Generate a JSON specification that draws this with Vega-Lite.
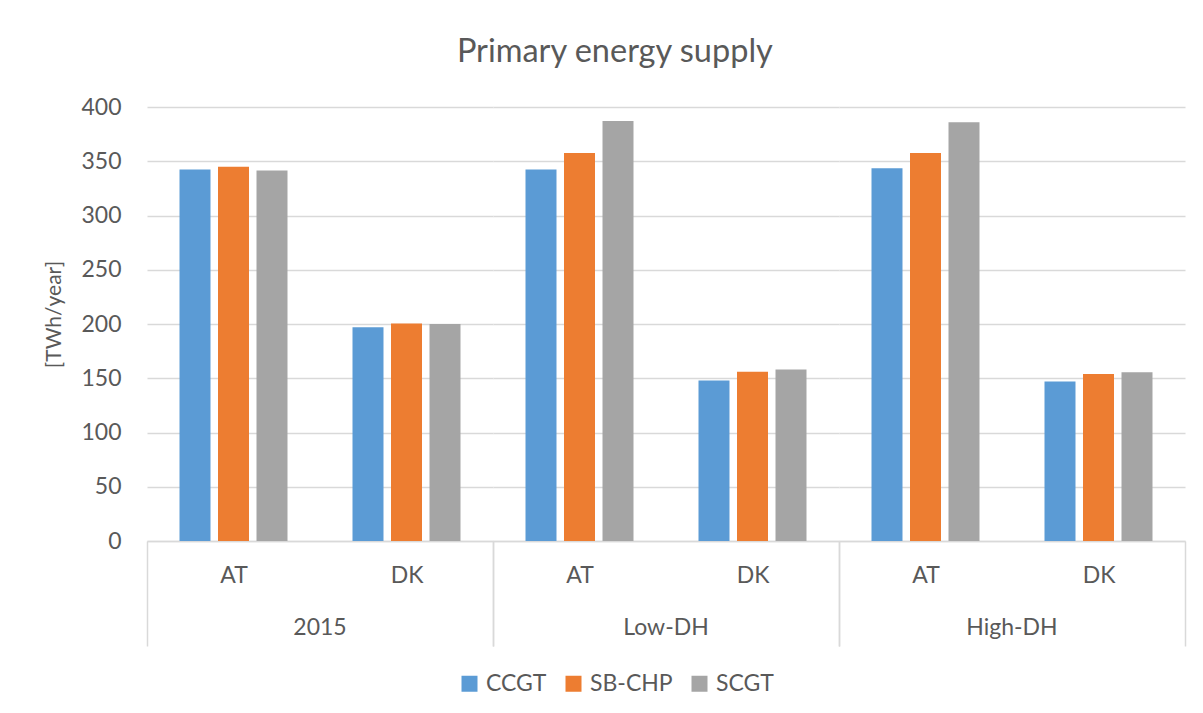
{
  "$schema": "https://vega.github.io/schema/vega-lite/v6.json",
  "background": "white",
  "padding": {"left": 43, "top": 35, "right": 10, "bottom": 5},
  "title": {"text": "Primary energy supply", "font": "Lato", "fontSize": 32.5, "fontWeight": "normal", "color": "#595959", "anchor": "middle", "frame": "bounds", "offset": 28},
  "data": {"values": [
    {"scenario": "2015", "country": "AT", "tech": "CCGT", "value": 342.5},
    {"scenario": "2015", "country": "AT", "tech": "SB-CHP", "value": 345},
    {"scenario": "2015", "country": "AT", "tech": "SCGT", "value": 341.5},
    {"scenario": "2015", "country": "DK", "tech": "CCGT", "value": 197},
    {"scenario": "2015", "country": "DK", "tech": "SB-CHP", "value": 200.5},
    {"scenario": "2015", "country": "DK", "tech": "SCGT", "value": 200},
    {"scenario": "Low-DH", "country": "AT", "tech": "CCGT", "value": 342.5},
    {"scenario": "Low-DH", "country": "AT", "tech": "SB-CHP", "value": 357.5},
    {"scenario": "Low-DH", "country": "AT", "tech": "SCGT", "value": 387},
    {"scenario": "Low-DH", "country": "DK", "tech": "CCGT", "value": 148},
    {"scenario": "Low-DH", "country": "DK", "tech": "SB-CHP", "value": 156},
    {"scenario": "Low-DH", "country": "DK", "tech": "SCGT", "value": 158},
    {"scenario": "High-DH", "country": "AT", "tech": "CCGT", "value": 343.5},
    {"scenario": "High-DH", "country": "AT", "tech": "SB-CHP", "value": 357.5},
    {"scenario": "High-DH", "country": "AT", "tech": "SCGT", "value": 386},
    {"scenario": "High-DH", "country": "DK", "tech": "CCGT", "value": 147},
    {"scenario": "High-DH", "country": "DK", "tech": "SB-CHP", "value": 154},
    {"scenario": "High-DH", "country": "DK", "tech": "SCGT", "value": 155.5}
  ]},
  "facet": {
    "column": {
      "field": "scenario", "type": "nominal", "sort": ["2015", "Low-DH", "High-DH"],
      "header": {"title": null, "labelOrient": "bottom", "labelFont": "Lato", "labelFontSize": 23, "labelColor": "#595959", "labelPadding": -30}
    }
  },
  "spacing": 0,
  "spec": {
    "width": 346,
    "height": 434,
    "mark": {"type": "bar"},
    "encoding": {
      "x": {
        "field": "country", "type": "nominal", "sort": ["AT", "DK"],
        "scale": {"paddingInner": 0, "paddingOuter": 0},
        "axis": {
          "title": null, "labelAngle": 0, "labelFont": "Lato", "labelFontSize": 23, "labelColor": "#595959",
          "domainColor": "#D9D9D9", "domainWidth": 1.5,
          "tickBand": "extent", "tickSize": 105, "tickColor": "#D9D9D9", "tickWidth": 1.5,
          "tickOpacity": {"condition": {"test": "datum.value === 'AT'", "value": 0}, "value": 1},
          "labelPadding": -82
        }
      },
      "xOffset": {"field": "tech", "type": "nominal", "sort": ["CCGT", "SB-CHP", "SCGT"], "scale": {"paddingInner": 0.195, "paddingOuter": 0.844}},
      "y": {
        "field": "value", "type": "quantitative",
        "scale": {"domain": [0, 400], "nice": false},
        "axis": {
          "values": [0, 50, 100, 150, 200, 250, 300, 350, 400],
          "title": "[TWh/year]", "titleFont": "Lato", "titleFontSize": 21, "titleFontWeight": "normal", "titleColor": "#595959", "titlePadding": 16, "titleY": 207,
          "labelFont": "Lato", "labelFontSize": 23, "labelColor": "#595959", "labelPadding": 26,
          "domain": false, "ticks": false,
          "grid": true, "gridColor": "#D9D9D9", "gridWidth": 1.5
        }
      },
      "color": {
        "field": "tech", "type": "nominal",
        "scale": {"domain": ["CCGT", "SB-CHP", "SCGT"], "range": ["#5B9BD5", "#ED7D31", "#A5A5A5"]},
        "legend": {
          "title": null, "orient": "none", "direction": "horizontal", "legendX": 311, "legendY": 565,
          "labelFont": "Lato", "labelFontSize": 23, "labelColor": "#595959", "labelOffset": 5,
          "symbolType": "square", "symbolSize": 256, "symbolStrokeWidth": 0, "columnPadding": 15
        }
      }
    }
  },
  "config": {"view": {"stroke": null}, "font": "Lato"}
}
